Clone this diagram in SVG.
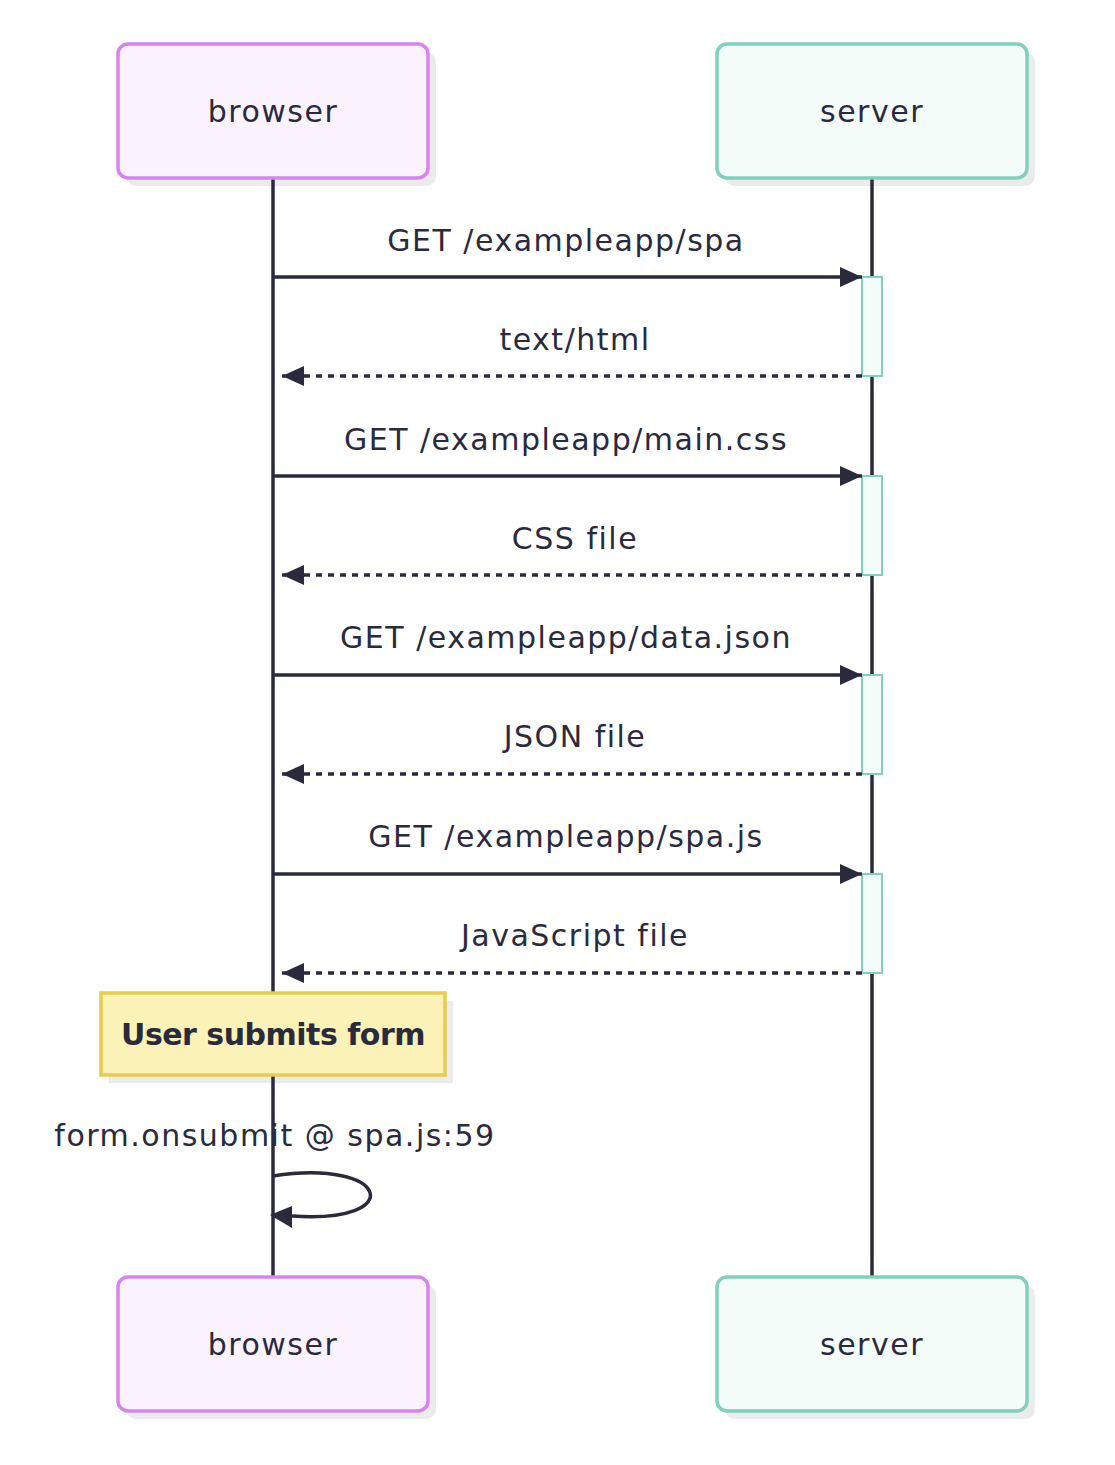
<svg xmlns="http://www.w3.org/2000/svg" width="1115" height="1465" viewBox="0 0 1115 1465">
<defs>
<style>
.actor-b{fill:#faf2fd;stroke:#d685f0;stroke-width:3.5}
.actor-s{fill:#f3fcf9;stroke:#7fd1bd;stroke-width:3.5}
.shadow{fill:#ebebeb}
.life{stroke:#2b2a3d;stroke-width:3.5;fill:none}
.msg{stroke:#2b2a3d;stroke-width:3.5;fill:none}
.dash{stroke-dasharray:6 6}
.act{fill:#f3fcf9;stroke:#7fd1bd;stroke-width:2}
.t{font-family:"DejaVu Sans",sans-serif;font-size:30px;fill:#2b2a3d;text-anchor:middle;letter-spacing:1.5px}
.note{fill:#faf2b6;stroke:#e8cc4e;stroke-width:3.5}
.nt{font-family:"DejaVu Sans",sans-serif;font-size:30px;font-weight:bold;fill:#2b2a3d;text-anchor:middle;letter-spacing:-0.5px}
</style>
<marker id="ah" markerWidth="22" markerHeight="20" refX="22" refY="10" orient="auto" markerUnits="userSpaceOnUse">
<path d="M0,0 L22,10 L0,20 Z" fill="#2b2a3d"/>
</marker>
</defs>
<rect width="1115" height="1465" fill="#ffffff"/>
<g id="shadows">
<rect class="shadow" x="126" y="52" width="310" height="134" rx="10"/>
<rect class="shadow" x="725" y="52" width="310" height="134" rx="10"/>
<rect class="shadow" x="126" y="1285" width="310" height="134" rx="10"/>
<rect class="shadow" x="725" y="1285" width="310" height="134" rx="10"/>
<rect class="shadow" x="109" y="1001" width="344" height="82"/>
</g>
<g id="lifelines">
<line class="life" x1="273" y1="178" x2="273" y2="1277"/>
<line class="life" x1="872" y1="178" x2="872" y2="1277"/>
</g>
<g id="browser-top">
<rect class="actor-b" x="118" y="44" width="310" height="134" rx="10"/>
<text class="t" x="273" y="122">browser</text>
</g>
<g id="server-top">
<rect class="actor-s" x="717" y="44" width="310" height="134" rx="10"/>
<text class="t" x="872" y="122">server</text>
</g>
<g id="browser-bottom">
<rect class="actor-b" x="118" y="1277" width="310" height="134" rx="10"/>
<text class="t" x="273" y="1355">browser</text>
</g>
<g id="server-bottom">
<rect class="actor-s" x="717" y="1277" width="310" height="134" rx="10"/>
<text class="t" x="872" y="1355">server</text>
</g>
<g id="activations">
<rect class="act" x="862" y="277" width="20" height="99"/>
<rect class="act" x="862" y="476" width="20" height="99"/>
<rect class="act" x="862" y="675" width="20" height="99"/>
<rect class="act" x="862" y="874" width="20" height="99"/>
</g>
<g id="connectors">
<line class="msg" x1="273" y1="277" x2="862" y2="277" marker-end="url(#ah)"/>
<line class="msg dash" x1="862" y1="376" x2="282" y2="376" marker-end="url(#ah)"/>
<line class="msg" x1="273" y1="476" x2="862" y2="476" marker-end="url(#ah)"/>
<line class="msg dash" x1="862" y1="575" x2="282" y2="575" marker-end="url(#ah)"/>
<line class="msg" x1="273" y1="675" x2="862" y2="675" marker-end="url(#ah)"/>
<line class="msg dash" x1="862" y1="774" x2="282" y2="774" marker-end="url(#ah)"/>
<line class="msg" x1="273" y1="874" x2="862" y2="874" marker-end="url(#ah)"/>
<line class="msg dash" x1="862" y1="973" x2="282" y2="973" marker-end="url(#ah)"/>
<path class="msg" d="M273,1176 C390,1158 408,1224 292,1216" />
<path d="M270,1215 L292,1206 L292,1228 Z" fill="#2b2a3d"/>
</g>
<g id="labels">
<text class="t" x="566" y="251">GET /exampleapp/spa</text>
<text class="t" x="575" y="350">text/html</text>
<text class="t" x="566" y="450">GET /exampleapp/main.css</text>
<text class="t" x="575" y="549">CSS file</text>
<text class="t" x="566" y="648">GET /exampleapp/data.json</text>
<text class="t" x="575" y="747">JSON file</text>
<text class="t" x="566" y="847">GET /exampleapp/spa.js</text>
<text class="t" x="575" y="946">JavaScript file</text>
<text class="t" x="275" y="1146">form.onsubmit @ spa.js:59</text>
</g>
<g id="note">
<rect class="note" x="101" y="993" width="344" height="82"/>
<text class="nt" x="273" y="1045">User submits form</text>
</g>
</svg>
